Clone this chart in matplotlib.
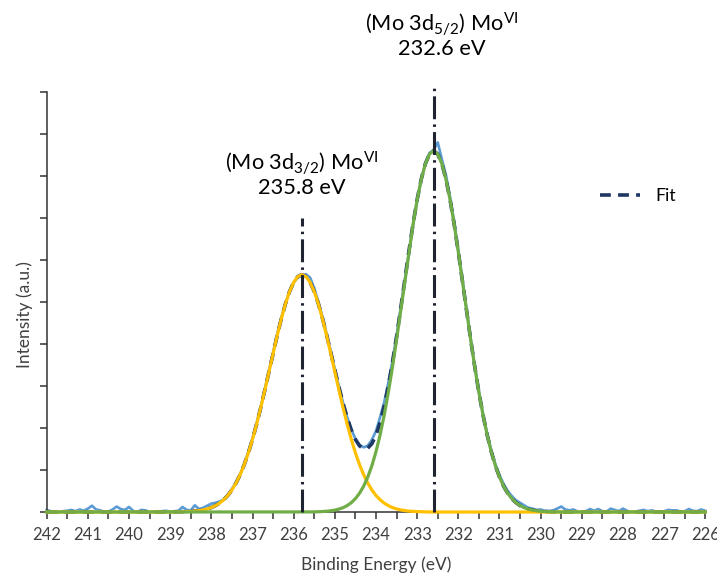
import matplotlib
matplotlib.use("Agg")
import matplotlib.pyplot as plt
import numpy as np

plt.rcParams["font.family"] = ["Lato", "DejaVu Sans"]
plt.rcParams["mathtext.default"] = "regular"

# Binding-energy grid of the scan (eV), 0.1 eV step from 242 down to 226
energy = np.linspace(242.0, 226.0, 161)

# Measured Mo 3d intensity (a.u.), one row per 1 eV
measured = [
    0.05, 0.02, 0.00, 0.00, 0.02, 0.03, 0.05, 0.02, 0.06, 0.03,   # 242.0
    0.08, 0.15, 0.06, 0.04, 0.00, 0.01, 0.06, 0.13, 0.07, 0.05,   # 241.0
    0.12, 0.03, 0.00, 0.05, 0.04, 0.00, 0.01, 0.00, 0.02, 0.03,   # 240.0
    0.01, 0.02, 0.03, 0.12, 0.05, 0.04, 0.16, 0.07, 0.10, 0.15,   # 239.0
    0.20, 0.22, 0.25, 0.30, 0.41, 0.55, 0.71, 0.90, 1.15, 1.44,   # 238.0
    1.76, 2.12, 2.50, 2.94, 3.37, 3.80, 4.24, 4.63, 4.96, 5.27,   # 237.0
    5.46, 5.58, 5.63, 5.66, 5.58, 5.33, 5.00, 4.65, 4.25, 3.84,   # 236.0
    3.40, 2.99, 2.60, 2.26, 1.97, 1.74, 1.60, 1.54, 1.58, 1.72,   # 235.0
    1.93, 2.26, 2.62, 3.08, 3.60, 4.20, 4.86, 5.52, 6.18, 6.83,   # 234.0
    7.42, 7.92, 8.30, 8.55, 8.62, 8.80, 8.40, 8.02, 7.50, 6.90,   # 233.0
    6.22, 5.52, 4.82, 4.13, 3.47, 2.87, 2.33, 1.87, 1.47, 1.14,   # 232.0
    0.88, 0.67, 0.50, 0.38, 0.28, 0.22, 0.16, 0.10, 0.08, 0.05,   # 231.0
    0.06, 0.03, 0.02, 0.04, 0.08, 0.13, 0.06, 0.04, 0.06, 0.01,   # 230.0
    0.00, 0.02, 0.07, 0.03, 0.07, 0.02, 0.01, 0.08, 0.05, 0.02,   # 229.0
    0.08, 0.03, 0.00, 0.01, 0.03, 0.05, 0.02, 0.04, 0.01, 0.00,   # 228.0
    0.02, 0.05, 0.04, 0.04, 0.01, 0.02, 0.07, 0.03, 0.02, 0.06,   # 227.0
    0.03,                                                         # 226.0
]

# Fitted Mo 3d3/2 (Mo VI) component
peak_3d32 = [
    0.000, 0.000, 0.000, 0.000, 0.000, 0.000, 0.000, 0.000, 0.000, 0.000,   # 242.0
    0.000, 0.000, 0.000, 0.000, 0.000, 0.000, 0.000, 0.000, 0.000, 0.000,   # 241.0
    0.000, 0.000, 0.000, 0.000, 0.000, 0.000, 0.000, 0.000, 0.000, 0.000,   # 240.0
    0.000, 0.000, 0.003, 0.006, 0.009, 0.014, 0.022, 0.033, 0.050, 0.073,   # 239.0
    0.106, 0.151, 0.211, 0.291, 0.394, 0.525, 0.689, 0.889, 1.129, 1.409,   # 238.0
    1.730, 2.090, 2.484, 2.903, 3.339, 3.777, 4.203, 4.600, 4.954, 5.247,   # 237.0
    5.468, 5.604, 5.650, 5.604, 5.468, 5.247, 4.954, 4.600, 4.203, 3.777,   # 236.0
    3.339, 2.903, 2.484, 2.090, 1.730, 1.409, 1.129, 0.889, 0.689, 0.525,   # 235.0
    0.394, 0.291, 0.211, 0.151, 0.106, 0.073, 0.050, 0.033, 0.022, 0.014,   # 234.0
    0.009, 0.006, 0.003, 0.000, 0.000, 0.000, 0.000, 0.000, 0.000, 0.000,   # 233.0
    0.000, 0.000, 0.000, 0.000, 0.000, 0.000, 0.000, 0.000, 0.000, 0.000,   # 232.0
    0.000, 0.000, 0.000, 0.000, 0.000, 0.000, 0.000, 0.000, 0.000, 0.000,   # 231.0
    0.000, 0.000, 0.000, 0.000, 0.000, 0.000, 0.000, 0.000, 0.000, 0.000,   # 230.0
    0.000, 0.000, 0.000, 0.000, 0.000, 0.000, 0.000, 0.000, 0.000, 0.000,   # 229.0
    0.000, 0.000, 0.000, 0.000, 0.000, 0.000, 0.000, 0.000, 0.000, 0.000,   # 228.0
    0.000, 0.000, 0.000, 0.000, 0.000, 0.000, 0.000, 0.000, 0.000, 0.000,   # 227.0
    0.000,                                                                  # 226.0
]

# Fitted Mo 3d5/2 (Mo VI) component
peak_3d52 = [
    0.000, 0.000, 0.000, 0.000, 0.000, 0.000, 0.000, 0.000, 0.000, 0.000,   # 242.0
    0.000, 0.000, 0.000, 0.000, 0.000, 0.000, 0.000, 0.000, 0.000, 0.000,   # 241.0
    0.000, 0.000, 0.000, 0.000, 0.000, 0.000, 0.000, 0.000, 0.000, 0.000,   # 240.0
    0.000, 0.000, 0.000, 0.000, 0.000, 0.000, 0.000, 0.000, 0.000, 0.000,   # 239.0
    0.000, 0.000, 0.000, 0.000, 0.000, 0.000, 0.000, 0.000, 0.000, 0.000,   # 238.0
    0.000, 0.000, 0.000, 0.000, 0.000, 0.000, 0.000, 0.000, 0.000, 0.000,   # 237.0
    0.000, 0.000, 0.000, 0.000, 0.002, 0.004, 0.007, 0.011, 0.018, 0.029,   # 236.0
    0.045, 0.069, 0.103, 0.153, 0.223, 0.318, 0.446, 0.614, 0.831, 1.102,   # 235.0
    1.436, 1.838, 2.309, 2.849, 3.451, 4.105, 4.794, 5.498, 6.190, 6.845,   # 234.0
    7.431, 7.921, 8.291, 8.522, 8.600, 8.522, 8.291, 7.921, 7.431, 6.845,   # 233.0
    6.190, 5.498, 4.794, 4.105, 3.451, 2.849, 2.309, 1.838, 1.436, 1.102,   # 232.0
    0.831, 0.614, 0.446, 0.318, 0.223, 0.153, 0.103, 0.069, 0.045, 0.029,   # 231.0
    0.018, 0.011, 0.007, 0.004, 0.002, 0.000, 0.000, 0.000, 0.000, 0.000,   # 230.0
    0.000, 0.000, 0.000, 0.000, 0.000, 0.000, 0.000, 0.000, 0.000, 0.000,   # 229.0
    0.000, 0.000, 0.000, 0.000, 0.000, 0.000, 0.000, 0.000, 0.000, 0.000,   # 228.0
    0.000, 0.000, 0.000, 0.000, 0.000, 0.000, 0.000, 0.000, 0.000, 0.000,   # 227.0
    0.000,                                                                  # 226.0
]

# Envelope of the two fitted components
fit_total = np.array(peak_3d32) + np.array(peak_3d52)

# Peak positions and the heights of their marker lines
peak_positions = [235.8, 232.6]
marker_tops = [7.0, 10.14]
peak_titles = [r"(Mo 3d$_{3/2}$) Mo$^{VI}$", r"(Mo 3d$_{5/2}$) Mo$^{VI}$"]
peak_values = ["235.8 eV", "232.6 eV"]
title_x = [235.8, 232.40]
title_y = [8.14, 11.44]
value_y = [7.57, 10.88]

x_major = list(range(242, 225, -1))
x_minor = [v - 0.5 for v in range(242, 226, -1)]
y_ticks = list(range(0, 11))

fig = plt.figure(figsize=(7.17, 5.76), dpi=100)
ax = fig.add_axes([0.0651, 0.1111, 0.9186, 0.7292])

ax.plot(energy, measured, color="#5b9bd5", lw=1.9, zorder=2, clip_on=False)
ax.plot(energy, fit_total, color="#1f3864", lw=2.6, dashes=(3, 2),
        zorder=3, clip_on=False, label="Fit")
ax.plot(energy, peak_3d32, color="#ffc000", lw=2.3, zorder=4, clip_on=False)
ax.plot(energy, peak_3d52, color="#70ad47", lw=2.3, zorder=5, clip_on=False)

for pos, top in zip(peak_positions, marker_tops):
    ax.plot([pos, pos], [0, top], color="#1e2430", lw=2.2,
            dashes=(7.5, 1.7, 0.8, 1.7), zorder=6, clip_on=False)

for x, y, txt in zip(title_x, title_y, peak_titles):
    ax.text(x, y, txt, ha="center", va="baseline", fontsize=15.7,
            color="black", clip_on=False)
for x, y, txt in zip(title_x, value_y, peak_values):
    ax.text(x, y, txt, ha="center", va="baseline", fontsize=15.7,
            color="black", clip_on=False)

ax.set_xlim(242, 226)
ax.set_ylim(0, 10)
ax.set_xticks(x_major)
ax.set_xticklabels([str(v) for v in x_major])
ax.set_xticks(x_minor, minor=True)
ax.set_yticks(y_ticks)
ax.set_yticklabels([])

for side in ("top", "right"):
    ax.spines[side].set_visible(False)
for side in ("left", "bottom"):
    ax.spines[side].set_color("#333333")
    ax.spines[side].set_linewidth(1.1)

ax.tick_params(axis="both", which="both", direction="out", length=5,
               width=1.1, color="#333333")
ax.tick_params(axis="x", which="major", labelsize=12, labelcolor="#404040",
               pad=5.5)

fig.text(376 / 717, 1 - 565 / 576, "Binding Energy (eV)", ha="center",
         va="center", fontsize=12.5, color="#404040")
fig.text(25 / 717, 1 - 315 / 576, "Intensity (a.u.)", ha="center",
         va="center", rotation=90, fontsize=12.5, color="#404040")

ax.legend(loc="center left", bbox_to_anchor=(0.84, 0.752), frameon=False,
          fontsize=12.7, handlelength=2.27, handletextpad=0.85,
          borderpad=0, borderaxespad=0)

fig.savefig("out.png", dpi=100)
